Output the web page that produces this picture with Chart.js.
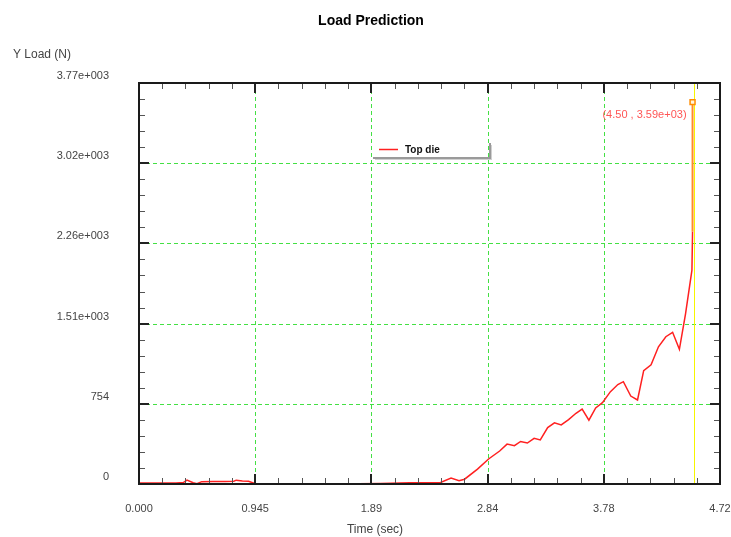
<!DOCTYPE html>
<html>
<head>
<meta charset="utf-8">
<script src="https://cdn.jsdelivr.net/npm/chart.js@4"></script>
<style>
  html, body { margin: 0; padding: 0; background: #fff; }
  #wrap { width: 731px; height: 537px; position: relative; }
</style>
</head>
<body>
<div id="wrap"><canvas id="loadChart"></canvas></div>
<script>
// values
const timeSec = [0.00, 0.30, 0.36, 0.39, 0.44, 0.47, 0.51, 0.60, 0.70, 0.77, 0.79, 0.84, 0.89, 0.945,
  1.20, 1.60, 1.96, 2.20, 2.45, 2.535, 2.60, 2.645, 2.75, 2.84, 2.93, 2.99, 3.05, 3.10, 3.155, 3.21,
  3.26, 3.32, 3.375, 3.43, 3.49, 3.55, 3.60, 3.655, 3.71, 3.765, 3.83, 3.89, 3.935, 3.995, 4.05,
  4.10, 4.16, 4.22, 4.28, 4.335, 4.39, 4.44, 4.492, 4.497];
const loadN = [10, 10, 14, 37, 12, 2, 22, 24, 24, 26, 36, 28, 26, 2,
  0, 0, 4, 12, 15, 55, 30, 45, 140, 235, 310, 375, 360, 400, 385, 430,
  415, 530, 575, 555, 605, 665, 705, 600, 715, 765, 868, 935, 962, 827, 790,
  1065, 1120, 1290, 1385, 1426, 1266, 1600, 2010, 2372];

const cursorTime = 4.507;
const cursorLoad = 3590;
const cursorText = '(4.50 , 3.59e+03)';

const xTicks = [0, 0.944, 1.888, 2.832, 3.776, 4.72];
const xLabels = ['0.000', '0.945', '1.89', '2.84', '3.78', '4.72'];
const yTicks = [0, 754, 1508, 2262, 3016, 3770];
const yLabels = ['0', '754', '1.51e+003', '2.26e+003', '3.02e+003', '3.77e+003'];

const FONT = '"Liberation Sans", Arial, sans-serif';

// grid, frame, ticks, titles, legend and cursor label
const decor = {
  id: 'decor',
  beforeDatasetsDraw(chart) {
    const { ctx, chartArea: a, scales: { x, y } } = chart;
    ctx.save();
    ctx.strokeStyle = '#44e044';
    ctx.lineWidth = 1;
    ctx.setLineDash([4, 3]);
    xTicks.slice(1, -1).forEach(v => {
      const px = Math.round(x.getPixelForValue(v)) + 0.5;
      ctx.beginPath(); ctx.moveTo(px, a.top); ctx.lineTo(px, a.bottom); ctx.stroke();
    });
    yTicks.slice(1, -1).forEach(v => {
      const py = Math.round(y.getPixelForValue(v)) + 0.5;
      ctx.beginPath(); ctx.moveTo(a.left, py); ctx.lineTo(a.right, py); ctx.stroke();
    });
    ctx.setLineDash([]);
    // cursor line
    const cx = Math.round(x.getPixelForValue(cursorTime)) + 0.5;
    ctx.strokeStyle = '#f6f600';
    ctx.beginPath(); ctx.moveTo(cx, a.top); ctx.lineTo(cx, a.bottom); ctx.stroke();
    ctx.restore();
  },
  afterDatasetsDraw(chart) {
    const { ctx, chartArea: a, scales: { x, y } } = chart;
    ctx.save();
    // minor + major ticks on all four sides, pointing inward
    const n = 25;
    for (let i = 0; i <= n; i++) {
      const major = i % 5 === 0;
      const len = major ? 10 : 6;
      ctx.strokeStyle = major ? '#222' : '#555';
      ctx.lineWidth = major ? 2 : 1;
      const px = Math.round(x.getPixelForValue(4.72 * i / n)) + (major ? 0 : 0.5);
      ctx.beginPath();
      ctx.moveTo(px, a.bottom); ctx.lineTo(px, a.bottom - len);
      ctx.moveTo(px, a.top); ctx.lineTo(px, a.top + len);
      ctx.stroke();
      const py = Math.round(y.getPixelForValue(3770 * i / n)) + (major ? 0 : 0.5);
      ctx.beginPath();
      ctx.moveTo(a.left, py); ctx.lineTo(a.left + len, py);
      ctx.moveTo(a.right, py); ctx.lineTo(a.right - len, py);
      ctx.stroke();
    }
    ctx.strokeStyle = '#1a1a1a';
    ctx.lineWidth = 2;
    ctx.strokeRect(a.left, a.top, a.right - a.left, a.bottom - a.top);
    ctx.restore();
  },
  afterDraw(chart) {
    const { ctx, scales: { x, y } } = chart;
    ctx.save();
    ctx.fillStyle = '#000';
    ctx.font = 'bold 14px ' + FONT;
    ctx.textAlign = 'center';
    ctx.textBaseline = 'middle';
    ctx.fillText('Load Prediction', 371, 21);

    ctx.fillStyle = '#444';
    ctx.font = '12px ' + FONT;
    ctx.fillText('Time (sec)', 375, 530);
    ctx.textAlign = 'left';
    ctx.fillText('Y Load (N)', 13, 55);

    // legend
    const ds = chart.data.datasets[0];
    ctx.fillStyle = '#9a9a9a';
    ctx.fillRect(373, 157, 118, 2);
    ctx.fillRect(489, 143, 2, 16);
    ctx.fillStyle = '#d0d0d0';
    ctx.fillRect(375, 159, 117, 1);
    ctx.fillRect(491, 145, 1, 15);
    ctx.strokeStyle = ds.borderColor;
    ctx.lineWidth = 1.5;
    ctx.beginPath(); ctx.moveTo(379, 149.5); ctx.lineTo(398, 149.5); ctx.stroke();
    ctx.fillStyle = '#111';
    ctx.font = 'bold 10px ' + FONT;
    ctx.fillText(ds.label, 405, 150);

    // cursor readout
    const mx = x.getPixelForValue(timeSec[timeSec.length - 1]);
    const my = y.getPixelForValue(cursorLoad);
    ctx.fillStyle = '#ff5555';
    ctx.font = '11px ' + FONT;
    ctx.textAlign = 'right';
    ctx.fillText(cursorText, mx - 6, my + 13);
    ctx.restore();
  }
};

const lastT = timeSec[timeSec.length - 1];

new Chart(document.getElementById('loadChart'), {
  type: 'line',
  data: {
    datasets: [{
      label: 'Top die',
      data: timeSec.map((t, i) => ({ x: t, y: loadN[i] })),
      borderColor: '#ff2020',
      borderWidth: 1.5,
      pointRadius: 0,
      tension: 0,
      fill: false
    }, {
      label: 'cursor',
      data: [{ x: lastT, y: loadN[loadN.length - 1] }, { x: lastT, y: cursorLoad }],
      borderColor: '#ff8c2a',
      borderWidth: 2,
      pointRadius: [0, 3.5],
      pointStyle: 'rect',
      pointBorderColor: '#ff8c00',
      pointBackgroundColor: '#fff6dd',
      pointBorderWidth: 1.5,
      fill: false
    }]
  },
  options: {
    responsive: true,
    maintainAspectRatio: false,
    animation: false,
    layout: { padding: { top: 83, right: 11, left: 0, bottom: 0 } },
    plugins: { legend: { display: false }, tooltip: { enabled: false }, title: { display: false } },
    scales: {
      x: {
        type: 'linear', min: 0, max: 4.72,
        afterBuildTicks: s => { s.ticks = xTicks.map(v => ({ value: v })); },
        afterFit: s => { s.height = 53; s.paddingLeft = 0; s.paddingRight = 0; },
        grid: { display: false, drawTicks: false },
        border: { display: false },
        ticks: {
          autoSkip: false, maxRotation: 0, padding: 18, color: '#444',
          font: { family: FONT, size: 11 },
          callback: (v, i) => xLabels[i]
        }
      },
      y: {
        type: 'linear', min: 0, max: 3770,
        afterBuildTicks: s => { s.ticks = yTicks.map(v => ({ value: v })); },
        afterFit: s => { s.width = 139; s.paddingTop = 0; s.paddingBottom = 0; },
        grid: { display: false, drawTicks: false },
        border: { display: false },
        ticks: {
          autoSkip: false, padding: 30, labelOffset: -7, color: '#444',
          font: { family: FONT, size: 11 },
          callback: (v, i) => yLabels[i]
        }
      }
    }
  },
  plugins: [decor]
});
</script>
</body>
</html>
